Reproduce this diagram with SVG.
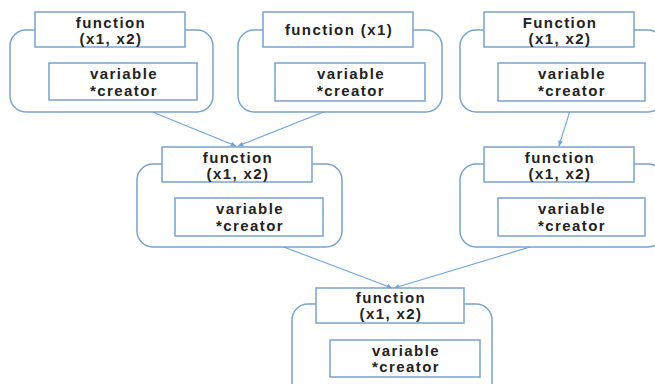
<svg xmlns="http://www.w3.org/2000/svg" width="655" height="384" viewBox="0 0 655 384">
<defs>
<style>
.outer{fill:#fff;stroke:#7aa3cc;stroke-width:1.5}
.box{fill:#fff;stroke:#7aa3cc;stroke-width:1.5}
.t{font-family:"Liberation Sans",Arial,sans-serif;font-weight:bold;font-size:15px;letter-spacing:1.4px;fill:#222;text-anchor:middle}
.conn{stroke:#6ea6dc;stroke-width:1.1;fill:none;marker-end:url(#ah)}
</style>
<marker id="ah" viewBox="0 0 10 10" refX="9" refY="5" markerWidth="6" markerHeight="6" orient="auto" markerUnits="userSpaceOnUse">
<path d="M0,1 L10,5 L0,9 z" fill="#6ea6dc"/>
</marker>
</defs>
<rect width="655" height="384" fill="#fff"/>
<g id="connectors">
<line class="conn" x1="123" y1="100" x2="236" y2="146"/>
<line class="conn" x1="351" y1="101" x2="238" y2="146"/>
<line class="conn" x1="573" y1="101" x2="559" y2="146"/>
<line class="conn" x1="252" y1="235" x2="392" y2="288"/>
<line class="conn" x1="570" y1="235" x2="394" y2="288"/>
</g>
<g id="node1">
<rect class="outer" x="10" y="30" width="203" height="82" rx="16"/>
<rect class="box" x="35" y="12" width="150" height="35"/>
<text class="t" x="111" y="28">function</text>
<text class="t" x="111" y="44">(x1, x2)</text>
<rect class="box" x="49" y="63" width="148" height="37"/>
<text class="t" x="124" y="79">variable</text>
<text class="t" x="124" y="96">*creator</text>
</g>
<g id="node2">
<rect class="outer" x="238" y="30" width="204" height="82" rx="16"/>
<rect class="box" x="263" y="12" width="150" height="35"/>
<text class="t" x="339" y="35">function (x1)</text>
<rect class="box" x="275" y="63" width="150" height="38"/>
<text class="t" x="351" y="79">variable</text>
<text class="t" x="351" y="96">*creator</text>
</g>
<g id="node3">
<rect class="outer" x="460" y="30" width="204" height="82" rx="16"/>
<rect class="box" x="484" y="12" width="150" height="35"/>
<text class="t" x="560" y="28">Function</text>
<text class="t" x="560" y="44">(x1, x2)</text>
<rect class="box" x="498" y="63" width="147" height="38"/>
<text class="t" x="572" y="79">variable</text>
<text class="t" x="572" y="96">*creator</text>
</g>
<g id="node4">
<rect class="outer" x="137" y="164" width="205" height="83" rx="16"/>
<rect class="box" x="162" y="147" width="150" height="35"/>
<text class="t" x="238" y="163">function</text>
<text class="t" x="238" y="179">(x1, x2)</text>
<rect class="box" x="175" y="198" width="148" height="38"/>
<text class="t" x="250" y="214">variable</text>
<text class="t" x="250" y="231">*creator</text>
</g>
<g id="node5">
<rect class="outer" x="460" y="164" width="204" height="83" rx="16"/>
<rect class="box" x="484" y="147" width="150" height="35"/>
<text class="t" x="560" y="163">function</text>
<text class="t" x="560" y="179">(x1, x2)</text>
<rect class="box" x="498" y="198" width="147" height="38"/>
<text class="t" x="572" y="214">variable</text>
<text class="t" x="572" y="231">*creator</text>
</g>
<g id="node6">
<rect class="outer" x="292" y="304" width="200" height="95" rx="16"/>
<rect class="box" x="316" y="288" width="148" height="35"/>
<text class="t" x="391" y="303">function</text>
<text class="t" x="391" y="319">(x1, x2)</text>
<rect class="box" x="330" y="340" width="150" height="37"/>
<text class="t" x="406" y="356">variable</text>
<text class="t" x="406" y="372">*creator</text>
</g>
</svg>
